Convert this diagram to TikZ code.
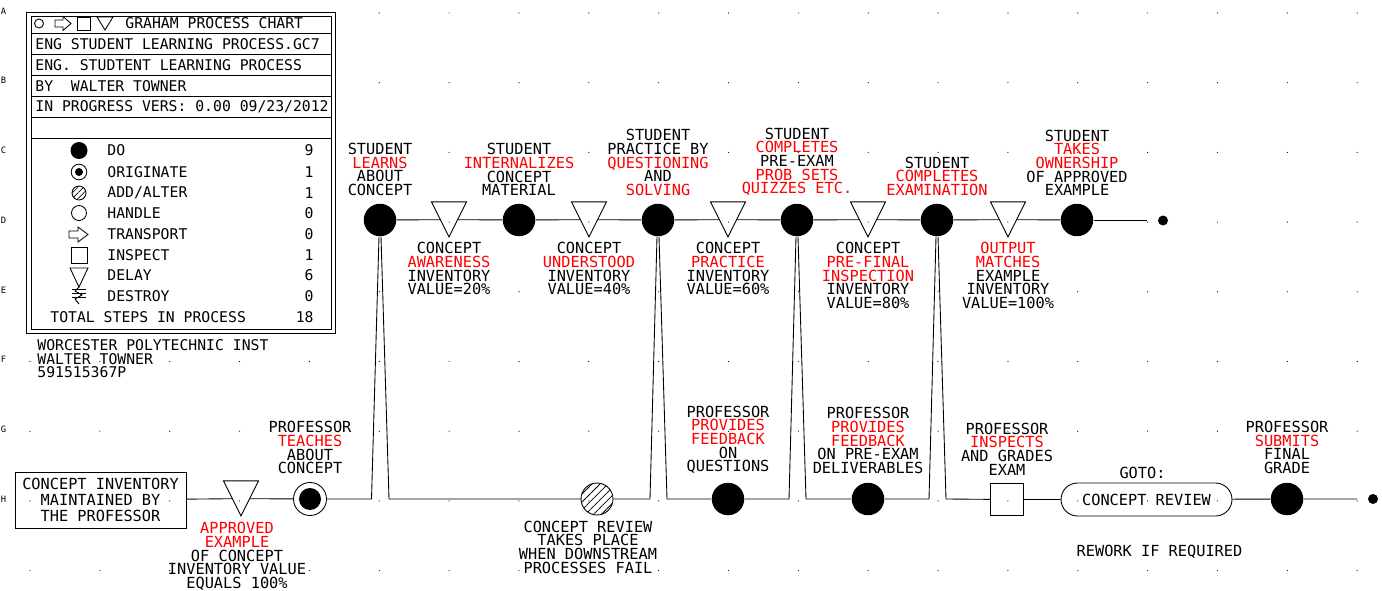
\documentclass[tikz,border=0pt]{standalone}
\usepackage{fontspec}
\setmainfont{DejaVu Sans Mono}
\usetikzlibrary{positioning,calc,shapes.geometric,patterns.meta}

\newcommand{\redw}[1]{\textcolor{red}{#1}}

\tikzset{
  chart/.style={font=\fontsize{8.7pt}{7.8pt}\selectfont, inner sep=0pt},
  legendtxt/.style={font=\fontsize{8.4pt}{7.8pt}\selectfont, inner sep=0pt},
  edgetxt/.style={font=\fontsize{5pt}{5pt}\selectfont, inner sep=0pt},
  lbl/.style={chart, align=center},
  dostep/.style={circle, fill=black, inner sep=0pt, minimum size=0.65cm},
  delay/.style={draw, isosceles triangle, isosceles triangle stretches=true,
    shape border rotate=270, inner sep=0pt, minimum width=0.7cm, minimum height=0.7cm},
  origstep/.style={draw, circle, inner sep=0pt, minimum size=0.66cm,
    path picture={\fill (path picture bounding box.center) circle (0.22cm);}},
  addalter/.style={draw, circle, inner sep=0pt, minimum size=0.64cm,
    pattern={Lines[angle=45,distance=3.2pt,line width=0.45pt]}},
  inspect/.style={draw, inner sep=0pt, minimum size=0.65cm},
  gotobox/.style={draw, chart, rounded corners=0.33cm, minimum width=3.42cm, minimum height=0.66cm},
  invbox/.style={draw, align=center, inner sep=0pt, font=\fontsize{8.7pt}{9.35pt}\selectfont,
    minimum width=3.42cm, minimum height=1.12cm},
  enddot/.style={circle, fill=black, inner sep=0pt, minimum size=0.2cm},
}

\begin{document}
\begin{tikzpicture}[x=0.02cm, y=-0.02cm, line width=0.5pt]
  \useasboundingbox (0,0) rectangle (1382,591);

  % grid of dots
  \foreach \i in {0,...,19}
    \foreach \j in {0,...,8}
      \fill (30+69.85*\i,13+69.7*\j) circle (0.6);

  % border letters
  \foreach \c [count=\j from 0] in {A,...,H}
    \node[edgetxt, anchor=west] (edge\c) at (0.5,11+69.7*\j) {\c};

  % legend
  \draw[fill=white] (26,12) rectangle (335,333);
  \draw (31,16) rectangle (331,329);
  \foreach \y in {33,54,75,96,117,138}
    \draw (31,\y) -- (331,\y);
  \draw (39,23.5) circle (4.5);
  \draw (55,20) -- (63,20) -- (63,16.5) -- (71,23.5) -- (63,30.5) -- (63,27) -- (55,27) -- cycle;
  \draw (77,17) rectangle (90,30);
  \draw (97,17) -- (113,17) -- (105,30) -- cycle;
  \node[legendtxt, anchor=west] (ttl) at (125,23.5) {GRAHAM PROCESS CHART};
  \node[legendtxt, anchor=west] (file) at (35,44) {ENG STUDENT LEARNING PROCESS.GC7};
  \node[legendtxt, anchor=west] (proc) at (35,65) {ENG. STUDTENT LEARNING PROCESS};
  \node[legendtxt, anchor=west] (auth) at (35,86) {BY\ \ WALTER TOWNER};
  \node[legendtxt, anchor=west] (vers) at (35,107) {IN PROGRESS VERS: 0.00 09/23/2012};

  \fill (79,150.5) circle (8.5);
  \draw (79,172) circle (7.8); \fill (79,172) circle (4);
  \draw[pattern={Lines[angle=45,distance=2.3pt,line width=0.4pt]}] (79,193) circle (7);
  \draw (79,213) circle (7.5);
  \draw (69,231) -- (78,231) -- (78,227) -- (88,234.5) -- (78,242) -- (78,238) -- (69,238) -- cycle;
  \draw (71,247.5) rectangle (87,263);
  \draw (70,268) -- (88,268) -- (79,287) -- cycle;
  \draw (72,289) -- (86,289);
  \draw (72,293) -- (86,293);
  \draw (72,297) -- (86,297);
  \draw (79,287) -- (75,291) -- (82,295) -- (75,299) -- (79,304);

  \node[legendtxt, anchor=west] (ldo) at (107,150.5) {DO};
  \node[legendtxt, anchor=west] (lorig) at (107,172) {ORIGINATE};
  \node[legendtxt, anchor=west] (ladd) at (107,193) {ADD/ALTER};
  \node[legendtxt, anchor=west] (lhandle) at (107,213) {HANDLE};
  \node[legendtxt, anchor=west] (ltrans) at (107,234) {TRANSPORT};
  \node[legendtxt, anchor=west] (linsp) at (107,255) {INSPECT};
  \node[legendtxt, anchor=west] (ldelay) at (107,275) {DELAY};
  \node[legendtxt, anchor=west] (ldest) at (107,296) {DESTROY};
  \node[legendtxt, anchor=west] (ltotal) at (50,317) {TOTAL STEPS IN PROCESS};
  \node[legendtxt, anchor=east] (ndo) at (314,150.5) {9};
  \node[legendtxt, anchor=east] (norig) at (314,172) {1};
  \node[legendtxt, anchor=east] (nadd) at (314,193) {1};
  \node[legendtxt, anchor=east] (nhandle) at (314,213) {0};
  \node[legendtxt, anchor=east] (ntrans) at (314,234) {0};
  \node[legendtxt, anchor=east] (ninsp) at (314,255) {1};
  \node[legendtxt, anchor=east] (ndelay) at (314,275) {6};
  \node[legendtxt, anchor=east] (ndest) at (314,296) {0};
  \node[legendtxt, anchor=east] (ntotal) at (314,317) {18};

  \node[legendtxt, align=left, anchor=north west] (inst) at (37,339)
    {WORCESTER POLYTECHNIC INST\\WALTER TOWNER\\591515367P};

  % student line
  \node[dostep] (do1) at (380,220) {};
  \node[delay, anchor=apex] (d1) at (449,238) {};
  \node[dostep] (do2) at (519,220) {};
  \node[delay, anchor=apex] (d2) at (589,238) {};
  \node[dostep] (do3) at (658,220) {};
  \node[delay, anchor=apex] (d3) at (728,238) {};
  \node[dostep] (do4) at (797,220) {};
  \node[delay, anchor=apex] (d4) at (868,238) {};
  \node[dostep] (do5) at (937,220) {};
  \node[delay, anchor=apex] (d5) at (1008,238) {};
  \node[dostep] (do6) at (1077,220) {};
  \coordinate (tend) at (1147,220);
  \node[enddot] (tdot) at (1163,220.5) {};

  \foreach \i [evaluate=\i as \n using int(\i+1)] in {1,...,5} {
    \draw (do\i) -- (d\i.right side);
    \draw (d\i.left side) -- (do\n);
  }
  \draw (do6) -- (tend);

  \node[lbl, above=0.14cm of do1] (s1) {STUDENT\\\redw{LEARNS}\\ABOUT\\CONCEPT};
  \node[lbl, above=0.14cm of do2] (s2) {STUDENT\\\redw{INTERNALIZES}\\CONCEPT\\MATERIAL};
  \node[lbl, above=0.14cm of do3] (s3) {STUDENT\\PRACTICE BY\\\redw{QUESTIONING}\\AND\\\redw{SOLVING}};
  \node[lbl, above=0.14cm of do4] (s4) {STUDENT\\\redw{COMPLETES}\\PRE-EXAM\\\redw{PROB SETS}\\\redw{QUIZZES ETC.}};
  \node[lbl, above=0.14cm of do5] (s5) {STUDENT\\\redw{COMPLETES}\\\redw{EXAMINATION}};
  \node[lbl, above=0.14cm of do6] (s6) {STUDENT\\\redw{TAKES}\\\redw{OWNERSHIP}\\OF APPROVED\\EXAMPLE};

  \node[lbl, below=0.08cm of d1.apex] (v1) {CONCEPT\\\redw{AWARENESS}\\INVENTORY\\VALUE=20\%};
  \node[lbl, below=0.08cm of d2.apex] (v2) {CONCEPT\\\redw{UNDERSTOOD}\\INVENTORY\\VALUE=40\%};
  \node[lbl, below=0.08cm of d3.apex] (v3) {CONCEPT\\\redw{PRACTICE}\\INVENTORY\\VALUE=60\%};
  \node[lbl, below=0.08cm of d4.apex] (v4) {CONCEPT\\\redw{PRE-FINAL}\\\redw{INSPECTION}\\INVENTORY\\VALUE=80\%};
  \node[lbl, below=0.08cm of d5.apex] (v5) {\redw{OUTPUT}\\\redw{MATCHES}\\EXAMPLE\\INVENTORY\\VALUE=100\%};

  % professor line
  \node[invbox] (inv) at (100.5,500) {CONCEPT INVENTORY\\MAINTAINED BY\\THE PROFESSOR};
  \node[delay, anchor=apex] (appr) at (241,517) {};
  \node[origstep] (orig) at (310,499) {};
  \coordinate (t1l) at (371.5,499);
  \coordinate (t1r) at (389,499);
  \node[addalter] (rev) at (597,499) {};
  \coordinate (t2l) at (650,499);
  \coordinate (t2r) at (667,499);
  \node[dostep] (pdo1) at (728,499) {};
  \coordinate (t3l) at (789,499);
  \coordinate (t3r) at (806,499);
  \node[dostep] (pdo2) at (868,499) {};
  \coordinate (t4l) at (929,499);
  \coordinate (t4r) at (946,499);
  \node[inspect] (insp) at (1007,499.5) {};
  \node[gotobox] (term) at (1146.5,499.5) {CONCEPT REVIEW};
  \node[dostep] (pdo3) at (1287,499) {};
  \coordinate (bend) at (1357,499);
  \node[enddot] (bdot) at (1373,499) {};

  \draw (inv) -- (appr.right side);
  \draw (appr.left side) -- (orig);
  \draw (orig) -- (t1l) -- ($(do1.south)+(-1,0)$);
  \draw ($(do1.south)+(1,0)$) -- (t1r) -- (rev);
  \draw (rev) -- (t2l) -- ($(do3.south)+(-1,0)$);
  \draw ($(do3.south)+(1,0)$) -- (t2r) -- (pdo1);
  \draw (pdo1) -- (t3l) -- ($(do4.south)+(-1,0)$);
  \draw ($(do4.south)+(1,0)$) -- (t3r) -- (pdo2);
  \draw (pdo2) -- (t4l) -- ($(do5.south)+(-1,0)$);
  \draw ($(do5.south)+(1,0)$) -- (t4r) -- (insp);
  \draw (insp) -- (term) -- (pdo3) -- (bend);

  \node[lbl, below=0.1cm of appr.apex, xshift=-0.08cm] (a1) {\redw{APPROVED}\\\redw{EXAMPLE}\\OF CONCEPT\\INVENTORY VALUE\\EQUALS 100\%};
  \node[lbl, above=0.15cm of orig] (p1) {PROFESSOR\\\redw{TEACHES}\\ABOUT\\CONCEPT};
  \node[lbl, below=0.1cm of rev, xshift=-0.18cm] (r1) {CONCEPT REVIEW\\TAKES PLACE\\WHEN DOWNSTREAM\\PROCESSES FAIL};
  \node[lbl, above=0.16cm of pdo1] (p2) {PROFESSOR\\\redw{PROVIDES}\\\redw{FEEDBACK}\\ON\\QUESTIONS};
  \node[lbl, above=0.16cm of pdo2] (p3) {PROFESSOR\\\redw{PROVIDES}\\\redw{FEEDBACK}\\ON PRE-EXAM\\DELIVERABLES};
  \node[lbl, above=0.14cm of insp] (p4) {PROFESSOR\\\redw{INSPECTS}\\AND GRADES\\EXAM};
  \node[lbl, above=0.06cm of term, xshift=-0.08cm] (g1) {GOTO:};
  \node[lbl, below=0.56cm of term, xshift=0.26cm] (g2) {REWORK IF REQUIRED};
  \node[lbl, above=0.16cm of pdo3] (p5) {PROFESSOR\\\redw{SUBMITS}\\FINAL\\GRADE};
\end{tikzpicture}
\end{document}
